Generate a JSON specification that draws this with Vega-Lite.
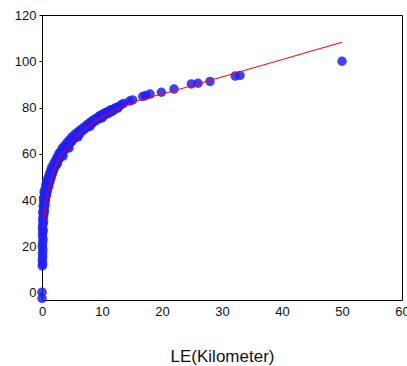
{
  "$schema": "https://vega.github.io/schema/vega-lite/v6.json",
  "autosize": {"type": "none"},
  "width": 360,
  "height": 285,
  "padding": {"left": 42, "top": 15, "right": 5, "bottom": 66},
  "background": "white",
  "config": {
    "view": {"stroke": "black", "strokeWidth": 1},
    "axis": {
      "grid": false,
      "domainColor": "black",
      "tickColor": "black",
      "labelColor": "#111",
      "labelFont": "Liberation Sans",
      "labelFontSize": 13,
      "labelFlush": false,
      "labelOverlap": false,
      "titleFont": "Liberation Sans",
      "titleFontWeight": "normal",
      "titleColor": "#111"
    }
  },
  "datasets": {
    "obs": [
      {"x": 0, "y": 0.2}, {"x": 0, "y": -2.5},
      {"x": 0.05, "y": 11.5}, {"x": 0.1, "y": 12.5}, {"x": 0.05, "y": 14}, {"x": 0.12, "y": 15.5},
      {"x": 0.08, "y": 17}, {"x": 0.15, "y": 18.5}, {"x": 0.05, "y": 20}, {"x": 0.1, "y": 21.5},
      {"x": 0.18, "y": 23}, {"x": 0.08, "y": 24.5}, {"x": 0.12, "y": 26}, {"x": 0.2, "y": 27},
      {"x": 0.06, "y": 28}, {"x": 0.15, "y": 29.5}, {"x": 0.25, "y": 30.5}, {"x": 0.1, "y": 31.5},
      {"x": 0.2, "y": 32.5}, {"x": 0.3, "y": 33.5}, {"x": 0.12, "y": 34.5}, {"x": 0.25, "y": 35.5},
      {"x": 0.35, "y": 36.5}, {"x": 0.2, "y": 37.5}, {"x": 0.4, "y": 38.5}, {"x": 0.3, "y": 39.5},
      {"x": 0.5, "y": 40.5}, {"x": 0.25, "y": 41}, {"x": 0.45, "y": 42}, {"x": 0.6, "y": 42.5},
      {"x": 0.35, "y": 43.5}, {"x": 0.7, "y": 44}, {"x": 0.55, "y": 45}, {"x": 0.85, "y": 45.5},
      {"x": 0.65, "y": 46.5}, {"x": 1.0, "y": 47}, {"x": 0.8, "y": 48}, {"x": 1.2, "y": 48},
      {"x": 1.0, "y": 49.5}, {"x": 1.4, "y": 49.5}, {"x": 1.2, "y": 51}, {"x": 1.6, "y": 51},
      {"x": 1.4, "y": 52.5}, {"x": 1.8, "y": 52.5}, {"x": 1.6, "y": 54}, {"x": 2.0, "y": 53.5},
      {"x": 1.9, "y": 55.5}, {"x": 2.3, "y": 55}, {"x": 2.2, "y": 57}, {"x": 2.6, "y": 56.5},
      {"x": 2.5, "y": 58.5}, {"x": 2.9, "y": 58}, {"x": 2.8, "y": 60}, {"x": 3.2, "y": 59.5},
      {"x": 3.1, "y": 61}, {"x": 3.5, "y": 60.5}, {"x": 3.4, "y": 62.5}, {"x": 3.8, "y": 62},
      {"x": 3.8, "y": 63.5}, {"x": 4.2, "y": 63}, {"x": 4.2, "y": 65}, {"x": 4.6, "y": 64.5},
      {"x": 4.6, "y": 66}, {"x": 5.0, "y": 65.5}, {"x": 5.0, "y": 67.3}, {"x": 5.4, "y": 66.8},
      {"x": 5.5, "y": 68.5}, {"x": 5.9, "y": 68}, {"x": 6.0, "y": 69.5}, {"x": 6.4, "y": 69},
      {"x": 6.5, "y": 70.5}, {"x": 6.9, "y": 70.2}, {"x": 7.0, "y": 71.5}, {"x": 7.4, "y": 71.3},
      {"x": 7.5, "y": 72.5}, {"x": 7.9, "y": 72.3}, {"x": 8.0, "y": 73.5}, {"x": 8.4, "y": 73.3},
      {"x": 8.5, "y": 74.5}, {"x": 8.9, "y": 74.2}, {"x": 9.0, "y": 75.3}, {"x": 9.4, "y": 75},
      {"x": 9.5, "y": 76.2}, {"x": 9.9, "y": 75.9}, {"x": 10.0, "y": 77}, {"x": 10.4, "y": 76.7},
      {"x": 10.5, "y": 77.6}, {"x": 10.9, "y": 77.3}, {"x": 11.0, "y": 78.3}, {"x": 11.4, "y": 78},
      {"x": 11.5, "y": 79}, {"x": 11.9, "y": 78.6}, {"x": 12.2, "y": 79.8}, {"x": 12.6, "y": 79.7},
      {"x": 2.5, "y": 55.5}, {"x": 3.5, "y": 59}, {"x": 4.5, "y": 62.5}, {"x": 6.0, "y": 67.3},
      {"x": 8.0, "y": 71.8}, {"x": 10.0, "y": 75.5},
      {"x": 1.1, "y": 45.8}, {"x": 1.3, "y": 47.7}, {"x": 1.5, "y": 49.6}, {"x": 1.7, "y": 51.3},
      {"x": 1.9, "y": 53}, {"x": 2.1, "y": 54.4}, {"x": 2.3, "y": 55.6}, {"x": 2.5, "y": 56.8},
      {"x": 2.7, "y": 57.8}, {"x": 2.9, "y": 58.8}, {"x": 3.1, "y": 59.7}, {"x": 3.3, "y": 60.4},
      {"x": 3.5, "y": 61.1}, {"x": 3.7, "y": 61.8}, {"x": 3.9, "y": 62.5}, {"x": 4.1, "y": 63.1},
      {"x": 4.3, "y": 63.8}, {"x": 4.5, "y": 64.4}, {"x": 4.7, "y": 65}, {"x": 4.9, "y": 65.7},
      {"x": 5.2, "y": 66.6}, {"x": 5.6, "y": 67.7}, {"x": 5.8, "y": 68.3}, {"x": 6.2, "y": 69.3},
      {"x": 6.6, "y": 70.2}, {"x": 6.8, "y": 70.6}, {"x": 7.2, "y": 71.5}, {"x": 7.6, "y": 72.4},
      {"x": 7.8, "y": 72.9}, {"x": 8.2, "y": 73.7}, {"x": 8.6, "y": 74.4}, {"x": 8.8, "y": 74.7},
      {"x": 9.2, "y": 75.4}, {"x": 9.6, "y": 76.1}, {"x": 9.8, "y": 76.5}, {"x": 10.2, "y": 77.1},
      {"x": 10.6, "y": 77.6}, {"x": 10.8, "y": 77.8}, {"x": 11.2, "y": 78.4}, {"x": 11.6, "y": 78.9},
      {"x": 11.8, "y": 79.1}, {"x": 12.4, "y": 79.9}, {"x": 12.8, "y": 80.4},
      {"x": 0.4, "y": 35}, {"x": 0.3, "y": 37}, {"x": 0.5, "y": 38}, {"x": 0.6, "y": 40},
      {"x": 0.75, "y": 42}, {"x": 0.9, "y": 44}, {"x": 0.5, "y": 44}, {"x": 0.75, "y": 47},
      {"x": 13.2, "y": 81.2}, {"x": 13.6, "y": 81.8}, {"x": 14.6, "y": 82.8}, {"x": 15.1, "y": 83.3},
      {"x": 16.8, "y": 84.8}, {"x": 17.3, "y": 85.2}, {"x": 18, "y": 85.8}, {"x": 19.9, "y": 86.6},
      {"x": 22, "y": 88}, {"x": 24.9, "y": 90.2}, {"x": 26, "y": 90.5}, {"x": 28, "y": 91.3},
      {"x": 32.2, "y": 93.6}, {"x": 33, "y": 93.9}, {"x": 50, "y": 100}
    ],
    "fit": [
      {"x": 0.2, "y": 28}, {"x": 0.3, "y": 31.5}, {"x": 0.5, "y": 36.5}, {"x": 0.75, "y": 41},
      {"x": 1, "y": 44}, {"x": 1.5, "y": 48.8}, {"x": 2, "y": 53}, {"x": 3, "y": 58.5},
      {"x": 4, "y": 62}, {"x": 5, "y": 65.2}, {"x": 6, "y": 68}, {"x": 7, "y": 70.3},
      {"x": 8, "y": 72.5}, {"x": 9, "y": 74.3}, {"x": 10, "y": 76}, {"x": 11, "y": 77.3},
      {"x": 12, "y": 78.6}, {"x": 13, "y": 79.8}, {"x": 14, "y": 81}, {"x": 15, "y": 82},
      {"x": 17, "y": 83.8}, {"x": 20, "y": 85.8}, {"x": 25, "y": 89.5}, {"x": 28, "y": 91.8},
      {"x": 30, "y": 93.2}, {"x": 35, "y": 97}, {"x": 40, "y": 100.7}, {"x": 45, "y": 104.5},
      {"x": 50, "y": 108.2}
    ]
  },
  "encoding": {
    "x": {
      "field": "x", "type": "quantitative",
      "scale": {"domain": [0, 60], "nice": false, "zero": false},
      "axis": {"values": [0, 10, 20, 30, 40, 50, 60], "ticks": false, "labelPadding": 5,
               "title": "LE(Kilometer)", "titleFontSize": 17, "titlePadding": 30}
    },
    "y": {
      "field": "y", "type": "quantitative",
      "scale": {"domain": [-3.2, 120], "nice": false, "zero": false},
      "axis": {"values": [0, 20, 40, 60, 80, 100, 120], "tickSize": 3, "labelPadding": 3, "title": null}
    }
  },
  "layer": [
    {
      "data": {"name": "obs"},
      "mark": {"type": "circle", "size": 90, "color": "#1f1fff", "opacity": 0.85, "clip": false}
    },
    {
      "data": {"name": "fit"},
      "mark": {"type": "line", "color": "#ff0000", "strokeWidth": 1, "interpolate": "monotone"}
    }
  ]
}
